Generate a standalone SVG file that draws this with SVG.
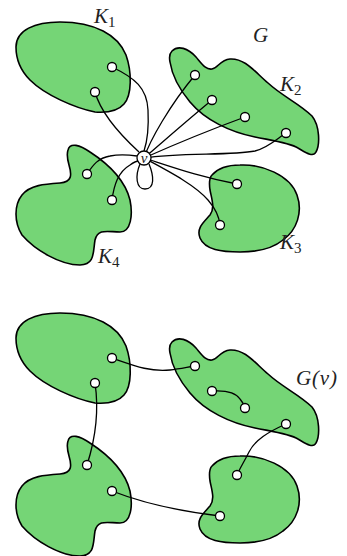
<svg xmlns="http://www.w3.org/2000/svg" xmlns:xlink="http://www.w3.org/1999/xlink" width="347" height="556" viewBox="0 0 347 556">
<style>
.blob{fill:#75d576;stroke:#000;stroke-width:1.6;stroke-linejoin:round}
.e{fill:none;stroke:#000;stroke-width:1.3}
.n{fill:#fff;stroke:#000;stroke-width:1.3}
.lbl{font-family:"Liberation Serif",serif;font-style:italic;font-size:21px;fill:#222}
.sub{font-style:normal;font-size:15px}
</style>
<defs>
<path id="bK1" d="M16,47 C16,30 35,22 60,22 C95,22 118,35 126,55 C132,72 132,95 124,104 C118,111 108,113 95,112 C75,108 45,95 30,80 C20,70 16,58 16,47 Z"/>
<path id="bK2" d="M172,51 C178,45 188,48 196,57 C202,64 206,70 212,69 C218,68 220,60 230,59 C245,58 255,72 268,83 C282,96 300,104 312,116 C320,126 320,145 316,152 C313,158 305,152 298,148 C290,143 275,141 255,137 C230,132 205,120 190,102 C180,90 172,75 170,62 C169,57 170,53 172,51 Z"/>
<path id="bK3" d="M212,175 C218,168 228,165 240,165 C262,164 290,175 297,195 C303,212 297,230 283,240 C272,249 258,252 240,252 C222,252 205,250 200,238 C196,228 204,222 210,215 C215,208 212,200 210,190 C209,183 209,178 212,175 Z"/>
<path id="bK4" d="M68,150 C70,142 80,145 90,152 C110,165 125,180 130,200 C133,215 131,232 120,232 C108,232 98,228 95,240 C93,252 95,265 80,265 C60,265 35,250 22,235 C14,222 14,205 22,195 C30,185 45,184 60,183 C72,182 72,175 69,165 C67,158 67,153 68,150 Z"/>
</defs>

<!-- Top: graph G -->
<g id="K1"><use xlink:href="#bK1" class="blob"/></g>
<g id="K2"><use xlink:href="#bK2" class="blob"/></g>
<g id="K3"><use xlink:href="#bK3" class="blob"/></g>
<g id="K4"><use xlink:href="#bK4" class="blob"/></g>

<!-- Bottom: graph G(v) -->
<g id="K1v"><use xlink:href="#bK1" class="blob" transform="translate(0,291)"/></g>
<g id="K2v"><use xlink:href="#bK2" class="blob" transform="translate(0,291)"/></g>
<g id="K3v"><use xlink:href="#bK3" class="blob" transform="translate(0,291)"/></g>
<g id="K4v"><use xlink:href="#bK4" class="blob" transform="translate(0,291)"/></g>

<g id="connectors">
  <path class="e" d="M112,67 C135,78 147,88 148,110 C149,130 146,145 144,151"/>
  <path class="e" d="M95,92 C100,110 115,130 139,152"/>
  <path class="e" d="M144,158 C150,140 170,105 195,75"/>
  <path class="e" d="M144,158 C165,140 190,118 212,100"/>
  <path class="e" d="M144,158 C180,142 215,128 245,117"/>
  <path class="e" d="M144,158 C180,152 230,156 255,151 C268,148 278,138 286,133"/>
  <path class="e" d="M144,158 C175,168 200,177 237,184"/>
  <path class="e" d="M144,158 C170,172 195,185 208,200 C215,208 219,215 220,225"/>
  <path class="e" d="M87,174 C93,165 98,158 110,156 C120,154 130,155 137,156"/>
  <path class="e" d="M112,200 C114,185 118,172 130,165 C134,162 137,161 139,161"/>
  <path class="e" d="M140,164 C135,176 136,189 145,189 C155,189 154,176 149,164"/>

  <path class="e" d="M112,358 C135,366 150,372 170,370 C180,369 188,367 195,366"/>
  <path class="e" d="M95,383 C99,410 95,440 87,465"/>
  <path class="e" d="M212,391 C228,390 236,393 240,399 C243,403 245,406 245,408"/>
  <path class="e" d="M286,424 C268,432 255,440 249,452 C244,462 240,468 237,475"/>
  <path class="e" d="M112,491 C140,502 170,510 220,516"/>
</g>

<g id="v">
  <circle class="n" cx="144" cy="158" r="7"/>
  <text class="lbl" x="144" y="162.5" text-anchor="middle" style="font-size:15px">v</text>
</g>

<g id="vertices-top">
  <circle class="n" cx="112" cy="67" r="4.5"/>
  <circle class="n" cx="95" cy="92" r="4.5"/>
  <circle class="n" cx="195" cy="75" r="4.5"/>
  <circle class="n" cx="212" cy="100" r="4.5"/>
  <circle class="n" cx="245" cy="117" r="4.5"/>
  <circle class="n" cx="286" cy="133" r="4.5"/>
  <circle class="n" cx="237" cy="184" r="4.5"/>
  <circle class="n" cx="220" cy="225" r="4.5"/>
  <circle class="n" cx="87" cy="174" r="4.5"/>
  <circle class="n" cx="112" cy="200" r="4.5"/>
</g>

<g id="vertices-bottom">
  <circle class="n" cx="112" cy="358" r="4.5"/>
  <circle class="n" cx="95" cy="383" r="4.5"/>
  <circle class="n" cx="195" cy="366" r="4.5"/>
  <circle class="n" cx="212" cy="391" r="4.5"/>
  <circle class="n" cx="245" cy="408" r="4.5"/>
  <circle class="n" cx="286" cy="424" r="4.5"/>
  <circle class="n" cx="237" cy="475" r="4.5"/>
  <circle class="n" cx="220" cy="516" r="4.5"/>
  <circle class="n" cx="87" cy="465" r="4.5"/>
  <circle class="n" cx="112" cy="491" r="4.5"/>
</g>

<g id="labels">
  <text class="lbl" x="94" y="23">K<tspan class="sub" dy="4">1</tspan></text>
  <text class="lbl" x="253" y="42">G</text>
  <text class="lbl" x="280" y="91">K<tspan class="sub" dy="4">2</tspan></text>
  <text class="lbl" x="280" y="249">K<tspan class="sub" dy="4">3</tspan></text>
  <text class="lbl" x="98" y="263">K<tspan class="sub" dy="4">4</tspan></text>
  <text class="lbl" x="296" y="385" textLength="41" lengthAdjust="spacing">G(v)</text>
</g>
</svg>
